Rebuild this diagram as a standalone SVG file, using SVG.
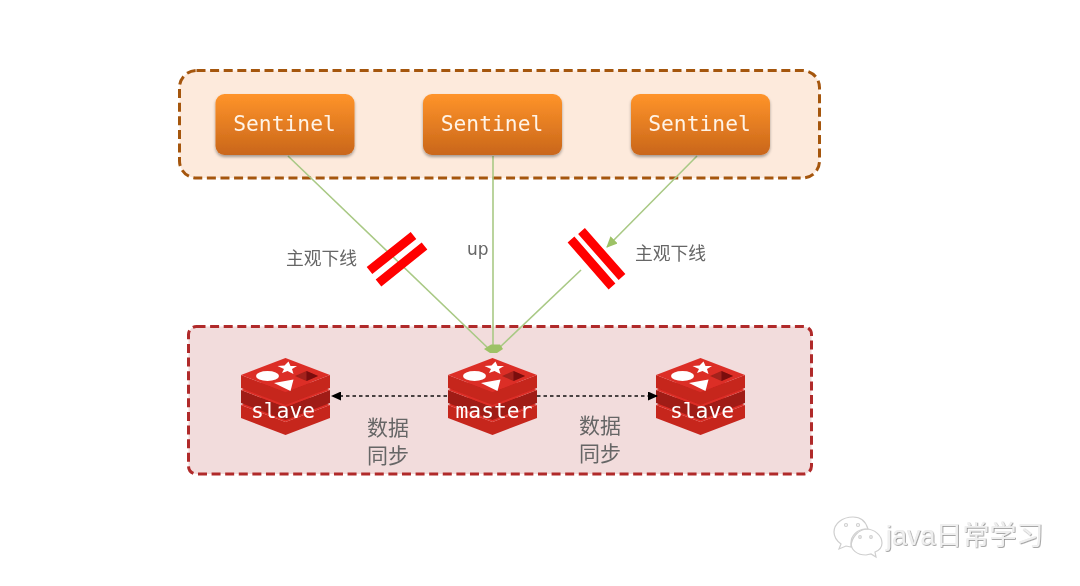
<svg xmlns="http://www.w3.org/2000/svg" xmlns:xlink="http://www.w3.org/1999/xlink" width="1080" height="586" viewBox="0 0 1080 586">
<style>
.group{stroke-width:3;stroke-dasharray:9 4.6}
.sent{fill:url(#og);filter:url(#sh)}
.mono{font-family:"DejaVu Sans Mono","Liberation Mono",monospace;font-size:21.300px;text-anchor:middle}
.cjk{font-family:"Liberation Sans","Noto Sans CJK SC",sans-serif;fill:#666}
.g{stroke:#a9c985;stroke-width:1.6;fill:none}
.d{stroke:#111;stroke-width:1.4;stroke-dasharray:3.5 3;fill:none}
.bar{stroke:#f00;stroke-width:9;fill:none}
.wm{fill:none;stroke:#cfcfcf;stroke-width:1.2}
.top{fill:#dc2e27}
.side{fill:#c6251e}
.side2{fill:#a01b14}
</style>
<defs>
<linearGradient id="og" x1="0" y1="0" x2="0" y2="1"><stop offset="0" stop-color="#ff942a"/><stop offset="1" stop-color="#c9661a"/></linearGradient>
<filter id="sh" x="-10%" y="-10%" width="120%" height="130%"><feDropShadow dx="0" dy="2" stdDeviation="1.600" flood-color="#000" flood-opacity="0.35"/></filter>
<filter id="soft" x="0" y="0" width="100%" height="100%" filterUnits="userSpaceOnUse" primitiveUnits="userSpaceOnUse"><feGaussianBlur stdDeviation="0.400"/></filter>
<filter id="emb" x="-5%" y="-5%" width="110%" height="110%"><feDropShadow dx="0.700" dy="0.700" stdDeviation="0.400" flood-color="#777" flood-opacity="0.900"/></filter>
<marker id="ag" markerWidth="12" markerHeight="10" refX="10" refY="5" orient="auto" markerUnits="userSpaceOnUse"><path d="M0 0L11 5L0 10Z" fill="#9dc266"/></marker>
<marker id="ab" markerWidth="10" markerHeight="9" refX="9" refY="4.500" orient="auto" markerUnits="userSpaceOnUse"><path d="M0 0L10 4.500L0 9Z" fill="#000"/></marker>
<g id="stack">
<path class="side" d="M-44.500 47V60L0 77L44.500 60V47L0 64Z"/><path class="top" d="M-44.500 47L0 30L44.500 47L0 64Z"/>
<path class="side2" d="M-44.500 32V45L0 62L44.500 45V32L0 49Z"/><path class="top" d="M-44.500 32L0 15L44.500 32L0 49Z"/>
<path class="side" d="M-44.500 17V30L0 47L44.500 30V17L0 34Z"/><path class="top" d="M0 0L44.500 17L0 34L-44.500 17Z"/>
<ellipse cx="-18" cy="18" rx="11.500" ry="5" fill="#fff"/>
<path d="M3 3.500L5 8L11.500 8L6.500 11L8 16L2 13L-3.500 15L-1.500 11L-8 8L-1 7.500Z" fill="#fff"/>
<path d="M-11.500 25L8 21.500L5 33Z" fill="#fff"/>
<path d="M9.500 18L21 13L32.500 18L21 23Z" fill="#a3211a"/><path d="M21 13L32.500 18L21 23Z" fill="#7a0f0a"/>
</g>
</defs>
<rect width="1080" height="586" fill="#fff"/>
<g filter="url(#soft)">
<g id="sentinel-group"><rect class="group" x="179.500" y="70.500" width="640" height="107.500" rx="17" fill="#fdeadc" stroke="#a5560f"/></g>
<g id="redis-group"><rect class="group" x="188.500" y="326.500" width="623" height="147.500" rx="8" fill="#f2dcdc" stroke="#b02a2a"/></g>

<g id="connectors">
<path class="g" d="M288 156L490 350"/>
<path class="g" d="M493 156V350"/>
<path class="g" d="M581 270L497 350"/>
<path class="g" d="M697 156L607 247" marker-end="url(#ag)"/>
<path d="M484 349L491 344.500L500 344.500L503 349L497 353H490Z" fill="#9dc266"/>
</g>

<g id="sentinel-1"><rect class="sent" x="215.500" y="94" width="139" height="61" rx="9"/><text class="mono" x="284.500" y="131" fill="#fff3e6">Sentinel</text></g>
<g id="sentinel-2"><rect class="sent" x="423" y="94" width="139" height="61" rx="9"/><text class="mono" x="492" y="131" fill="#fff3e6">Sentinel</text></g>
<g id="sentinel-3"><rect class="sent" x="631" y="94" width="139" height="61" rx="9"/><text class="mono" x="699.500" y="131" fill="#fff3e6">Sentinel</text></g>

<g id="block-left"><path class="bar" d="M369.500 270.500L413.500 235.500M378.500 283L424.500 246"/></g>
<g id="block-right"><path class="bar" d="M571 239.500L612 286.500M581.500 231L622 277"/></g>

<g id="slave-left"><use xlink:href="#stack" href="#stack" transform="translate(285.500 358)"/><text class="mono" x="283" y="418" fill="#fff">slave</text></g>
<g id="master"><use xlink:href="#stack" href="#stack" transform="translate(492.500 358)"/><text class="mono" x="494" y="418" fill="#fff">master</text></g>
<g id="slave-right"><use xlink:href="#stack" href="#stack" transform="translate(700.500 358)"/><text class="mono" x="702" y="418" fill="#fff">slave</text></g>

<g id="data-links">
<path class="d" d="M447 396H332" marker-end="url(#ab)"/>
<path class="d" d="M537 396H657" marker-end="url(#ab)"/>
</g>

<g id="labels">
<text class="cjk" x="286" y="265" font-size="17.800">主观下线</text>
<text class="cjk" x="635" y="260" font-size="17.800">主观下线</text>
<text x="467" y="255" font-size="17" fill="#666" font-family="DejaVu Sans,sans-serif">up</text>
<text class="cjk" x="367" y="435" font-size="21">数据</text>
<text class="cjk" x="367" y="463" font-size="21">同步</text>
<text class="cjk" x="579" y="433" font-size="21">数据</text>
<text class="cjk" x="579" y="461" font-size="21">同步</text>
</g>

<g id="watermark">
<path class="wm" d="M853 517C842 517 834 524 834 532C834 537 837 541 841 544L839 549L846 546L851 547C851 537 859 529 868 529C866 522 861 517 853 517Z"/>
<path class="wm" d="M866 529C857 529 851 536 851 543C851 550 857 555 866 555L871 554L876 557L875 552C880 550 882 547 882 543C882 536 875 529 866 529Z"/>
<circle class="wm" cx="846" cy="525" r="1.500"/><circle class="wm" cx="858" cy="525" r="1.500"/><circle class="wm" cx="860" cy="537" r="1.300"/><circle class="wm" cx="871" cy="537" r="1.300"/>
<text x="886" y="545" font-size="27" fill="#efefef" filter="url(#emb)" font-family="Liberation Sans,Noto Sans CJK SC,sans-serif">java日常学习</text>
</g>
</g>
</svg>
